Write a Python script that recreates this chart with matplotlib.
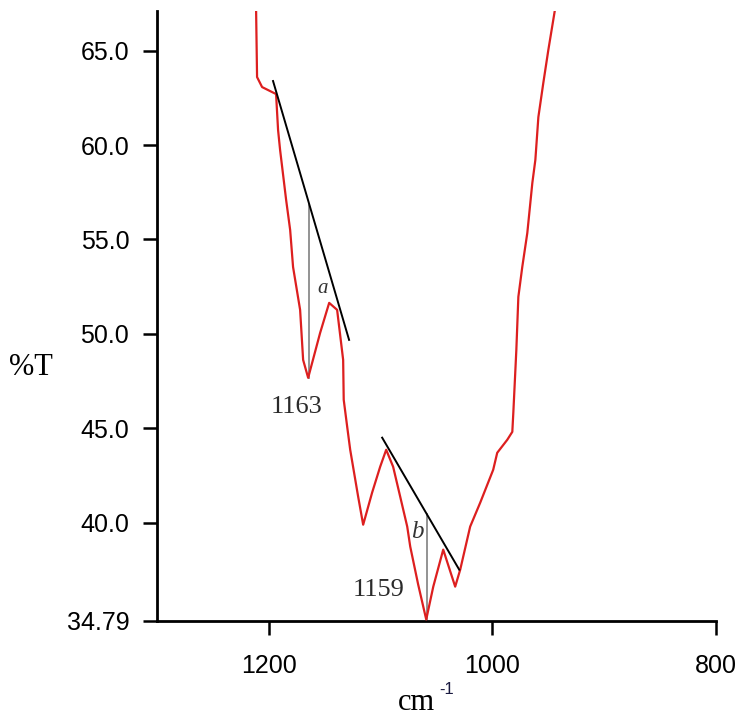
import matplotlib
matplotlib.use("Agg")
import matplotlib.pyplot as plt

# spectrum trace (wavenumber, %T)
wavenumber = [1211.4, 1210.5, 1206.0, 1193.5, 1191.7, 1189.9, 1184.5, 1180.9,
              1178.3, 1172.0, 1169.3, 1164.8, 1154.1, 1146.0, 1138.9, 1133.5,
              1133.0, 1129.9, 1127.2, 1120.1, 1115.6, 1107.6, 1100.4, 1095.0,
              1088.8, 1082.5, 1076.2, 1073.5, 1066.4, 1059.2, 1052.9, 1044.0,
              1033.3, 1028.8, 1019.9, 1010.9, 999.3, 995.7, 986.7, 982.2,
              981.3, 978.6, 976.8, 973.3, 968.8, 964.3, 961.6, 958.9, 954.5,
              950.0, 943.7]
transmittance = [67.3, 63.60, 63.07, 62.70, 60.79, 59.74, 57.09, 55.50,
                 53.54, 51.27, 48.62, 47.67, 50.05, 51.64, 51.27, 48.62,
                 46.51, 45.08, 43.86, 41.38, 39.89, 41.59, 42.96, 43.86,
                 42.96, 41.38, 39.79, 38.73, 36.72, 34.87, 36.61, 38.57,
                 36.61, 37.51, 39.79, 41.06, 42.80, 43.70, 44.39, 44.81,
                 45.82, 49.15, 51.96, 53.54, 55.34, 57.99, 59.21, 61.48, 63.28,
                 65.03, 67.3]

# baselines drawn across the two bands
base_a_x = [1196.2, 1128.2]
base_a_y = [63.39, 49.68]
base_b_x = [1098.6, 1029.7]
base_b_y = [44.50, 37.51]

# band depth markers
depth_a_x = [1163.9, 1163.9]
depth_a_y = [56.85, 47.67]
depth_b_x = [1058.3, 1058.3]
depth_b_y = [40.45, 34.87]

yticks = [34.79, 40.0, 45.0, 50.0, 55.0, 60.0, 65.0]
ytick_labels = ["34.79", "40.0", "45.0", "50.0", "55.0", "60.0", "65.0"]
xticks = [1200, 1000, 800]
xtick_labels = ["1200", "1000", "800"]

fig = plt.figure(figsize=(7.43, 7.18), dpi=100)
ax = fig.add_axes([0.2113, 0.1351, 0.7524, 0.8496])

ax.plot(wavenumber, transmittance, color="#dd1f1f", lw=1.6, zorder=3)
ax.plot(base_a_x, base_a_y, color="black", lw=1.4, zorder=4)
ax.plot(base_b_x, base_b_y, color="black", lw=1.4, zorder=4)
ax.plot(depth_a_x, depth_a_y, color="#8a8a8a", lw=1.3, zorder=2)
ax.plot(depth_b_x, depth_b_y, color="#8a8a8a", lw=1.3, zorder=2)

ax.set_xlim(1300, 800)
ax.set_ylim(34.79, 67.1)

for side in ["top", "right"]:
    ax.spines[side].set_visible(False)
for side in ["left", "bottom"]:
    ax.spines[side].set_linewidth(2)

ax.set_yticks(yticks)
ax.set_yticklabels(ytick_labels)
ax.set_xticks(xticks)
ax.set_xticklabels(xtick_labels)
ax.tick_params(axis="y", direction="out", length=10, width=1.8, pad=10,
               labelsize=18)
ax.tick_params(axis="x", direction="out", length=10, width=1.8, pad=14,
               labelsize=18)
for lab in ax.get_xticklabels() + ax.get_yticklabels():
    lab.set_family("Liberation Sans")

# peak labels
ax.text(1175, 46.1, "1163", family="Liberation Serif", fontsize=19,
        color="#2a2a2a", ha="center", va="center")
ax.text(1102, 36.45, "1159", family="Liberation Serif", fontsize=19,
        color="#2a2a2a", ha="center", va="center")
ax.text(1152, 52.4, "a", family="Liberation Serif", style="italic",
        fontsize=15, color="#333333", ha="center", va="center")
ax.text(1067, 39.5, "b", family="Liberation Serif", style="italic",
        fontsize=18, color="#333333", ha="center", va="center")

# axis titles
fig.text(0.041, 1 - 367 / 718, "%T", family="Liberation Serif", fontsize=22,
         ha="center", va="center")
fig.text(0.560, 1 - 703 / 718, "cm", family="Liberation Serif", fontsize=22,
         ha="center", va="center")
fig.text(0.601, 1 - 690 / 718, "-1", family="Liberation Sans", fontsize=12,
         color="#1a1a40", ha="center", va="center")

fig.savefig("out.png", dpi=100)
